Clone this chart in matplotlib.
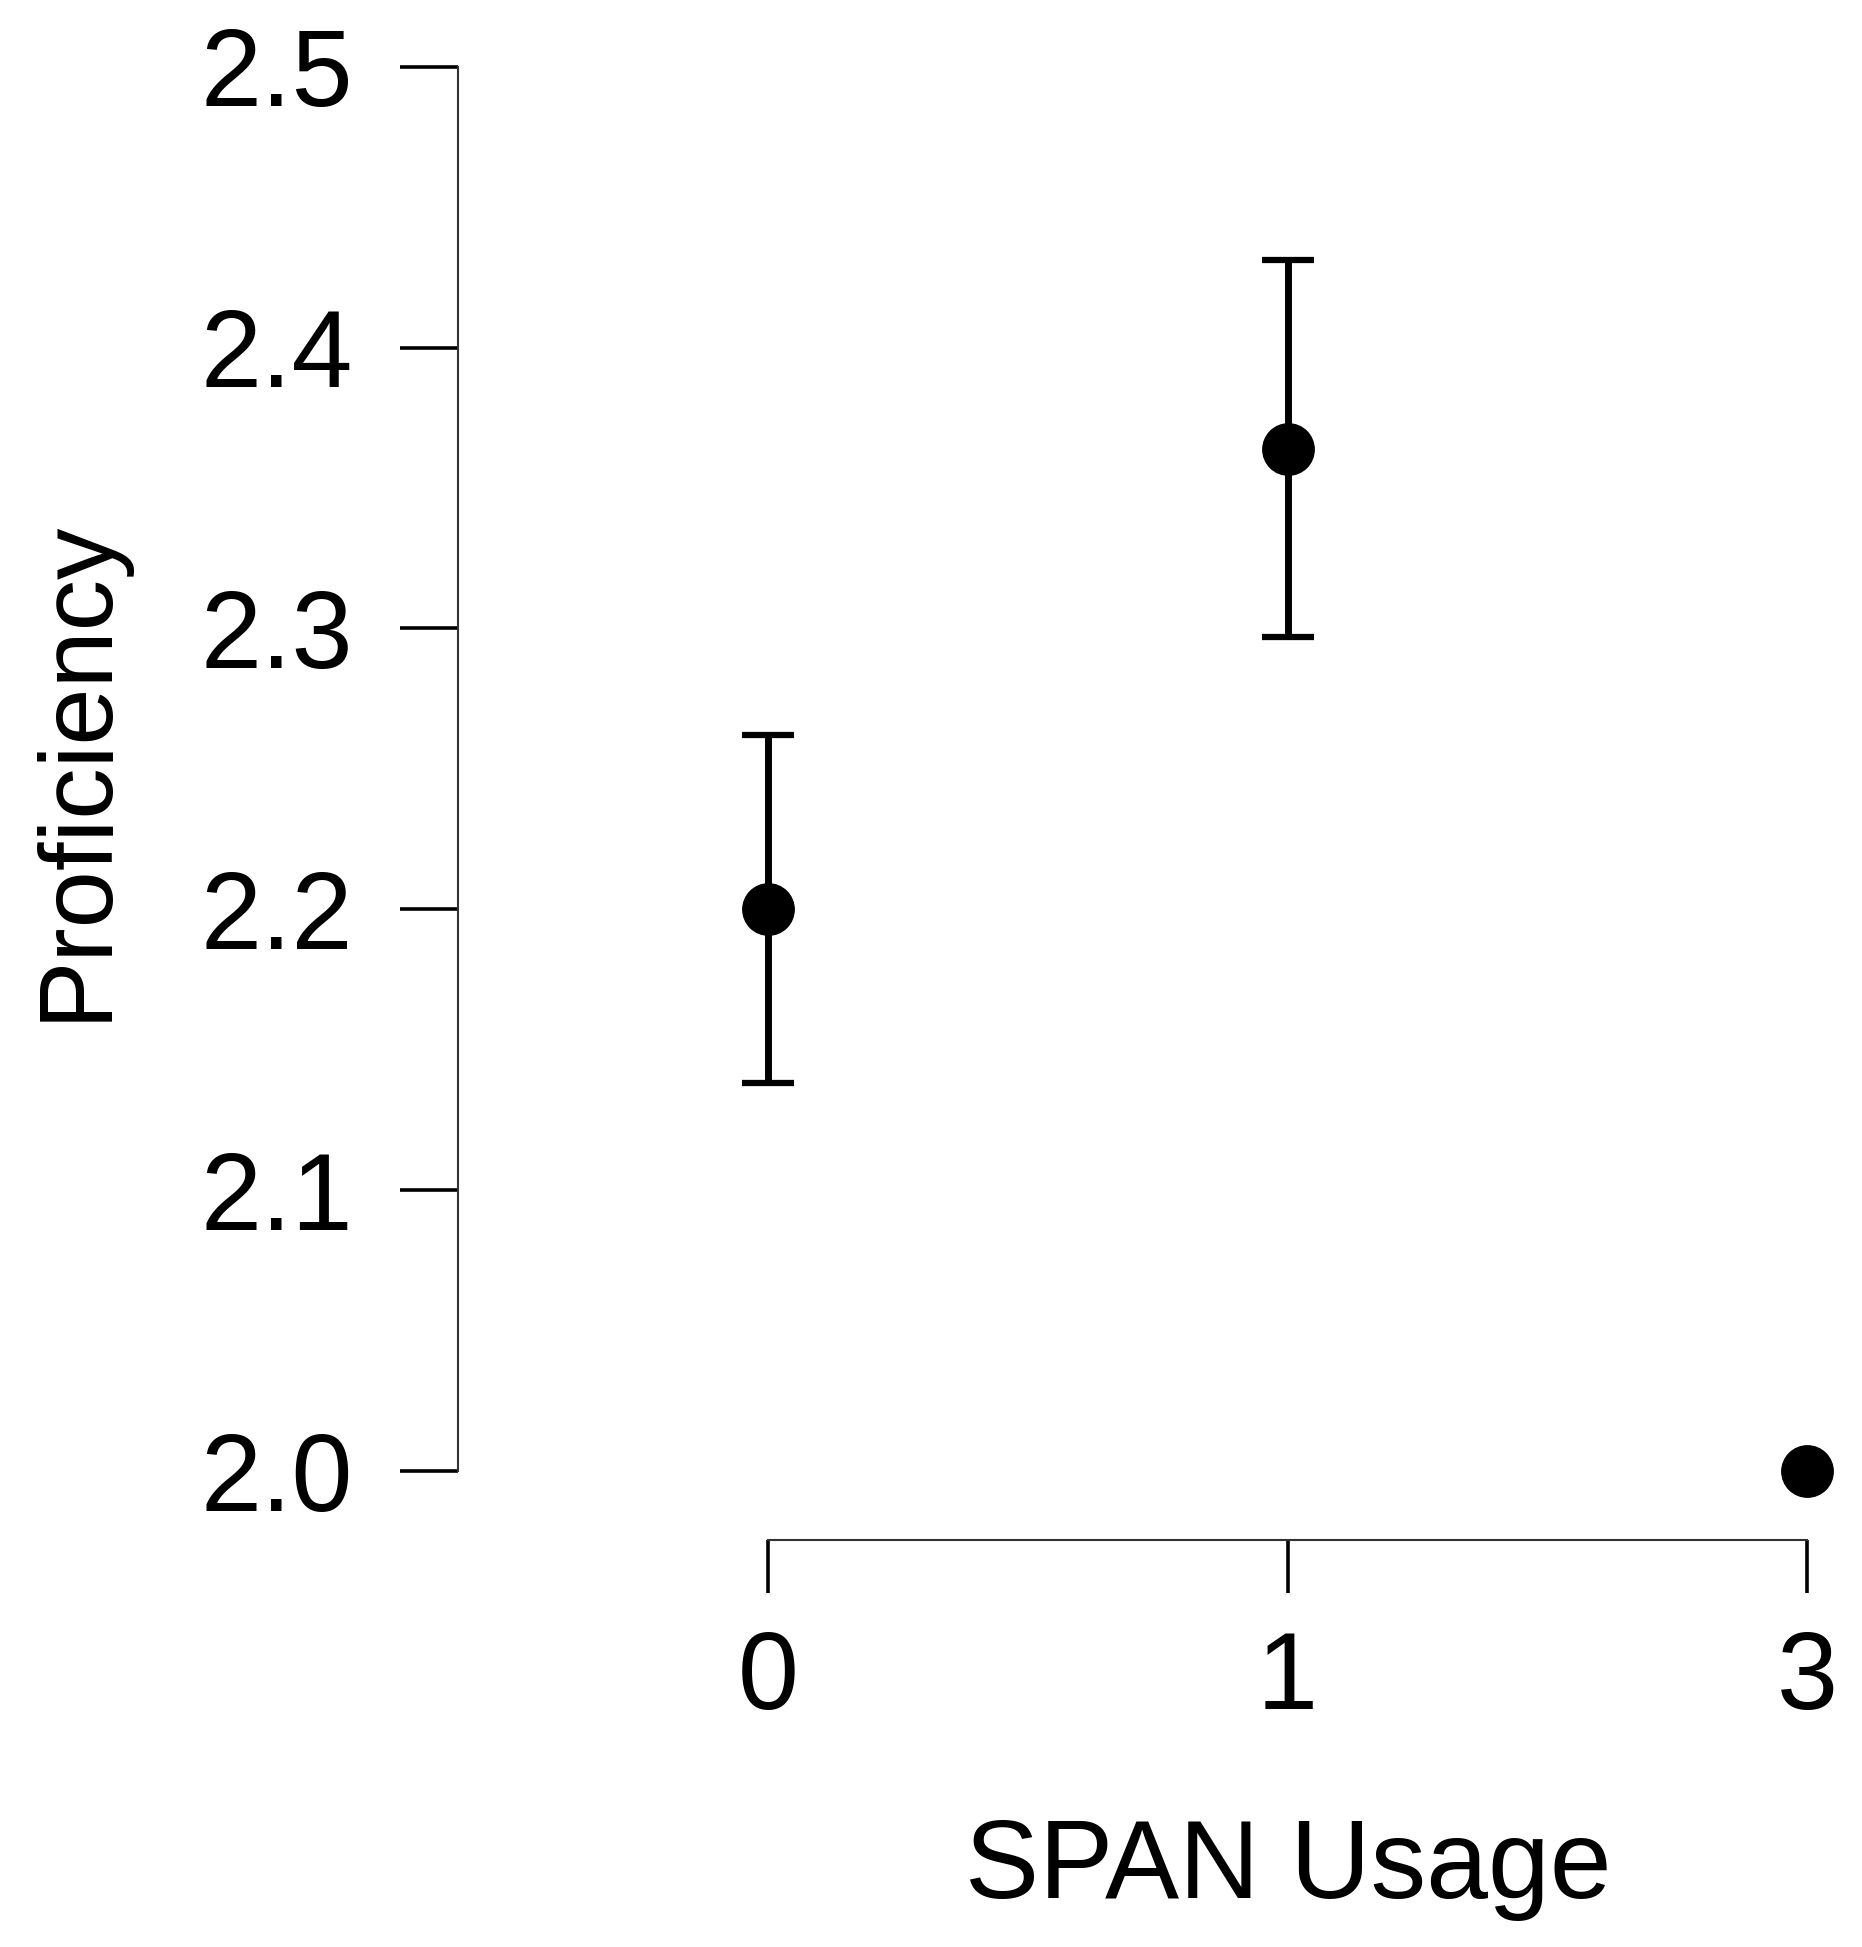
#!/usr/bin/env python3

import numpy as np
import matplotlib

matplotlib.use("Agg")
import matplotlib.pyplot as plt

# values
usage_labels = ["0", "1", "3"]
proficiency = [2.200, 2.364, 2.000]
error = [0.062, 0.067, np.nan]  # no bar drawn for "3"
y_ticks = [2.0, 2.1, 2.2, 2.3, 2.4, 2.5]

DPI = 100
W, H = 1862, 1947


def main():
    fig = plt.figure(figsize=(W / DPI, H / DPI), dpi=DPI)

    # axes box in pixels: left spine at x=458, bottom spine at y=1540 (from top)
    left_px, bottom_px, top_px = 458, 1540, 30
    ax = fig.add_axes(
        [left_px / W, (H - bottom_px) / H, 1 - left_px / W, (bottom_px - top_px) / H]
    )

    x_positions = np.arange(len(usage_labels))
    ax.errorbar(
        x_positions,
        proficiency,
        yerr=error,
        fmt="o",
        color="black",
        markersize=37,
        elinewidth=5,
        capsize=18.5,
        capthick=4.5,
        clip_on=False,
    )

    # pixel scale: 0 -> 768, 3 -> 1807 ; 2.0 -> 1471, 2.5 -> 66.7
    px_per_x = (1807 - 768) / 2
    px_per_y = (1471 - 66.7) / 0.5
    ax.set_xlim(-(768 - left_px) / px_per_x, 2 + (W - 1807) / px_per_x)
    ax.set_ylim(2.0 - (bottom_px - 1471) / px_per_y, 2.5 + (66.7 - top_px) / px_per_y)

    for side in ("top", "right"):
        ax.spines[side].set_visible(False)
    ax.spines["left"].set_bounds(2.0, 2.5)
    ax.spines["bottom"].set_bounds(0, 2)
    for side in ("left", "bottom"):
        ax.spines[side].set_linewidth(1.5)
        ax.spines[side].set_color("#333333")

    ax.set_yticks(y_ticks)
    ax.set_yticklabels([f"{v:.1f}" for v in y_ticks])
    ax.set_xticks(x_positions)
    ax.set_xticklabels(usage_labels)

    ax.tick_params(axis="y", direction="out", length=41.5, width=2.6, pad=34,
                   labelsize=79)
    ax.tick_params(axis="x", direction="out", length=38, width=2.6, pad=27,
                   labelsize=79)
    for lab in ax.get_xticklabels() + ax.get_yticklabels():
        lab.set_fontfamily(["Liberation Sans", "DejaVu Sans"])

    label_font = ["Liberation Sans", "DejaVu Sans"]
    ax.set_xlabel("SPAN Usage", fontsize=80, family=label_font,
                  va="baseline", ha="center")
    ax.xaxis.set_label_coords((1288 - left_px) / (W - left_px),
                              (H - 1898 - (H - bottom_px)) / (bottom_px - top_px))
    ax.set_ylabel("Proficiency", fontsize=74, family=label_font,
                  va="center", ha="center")
    ax.yaxis.set_label_coords((78 - left_px) / (W - left_px),
                              (H - 770 - (H - bottom_px)) / (bottom_px - top_px))

    fig.savefig("out.png", dpi=DPI, facecolor="white")


if __name__ == "__main__":
    main()
